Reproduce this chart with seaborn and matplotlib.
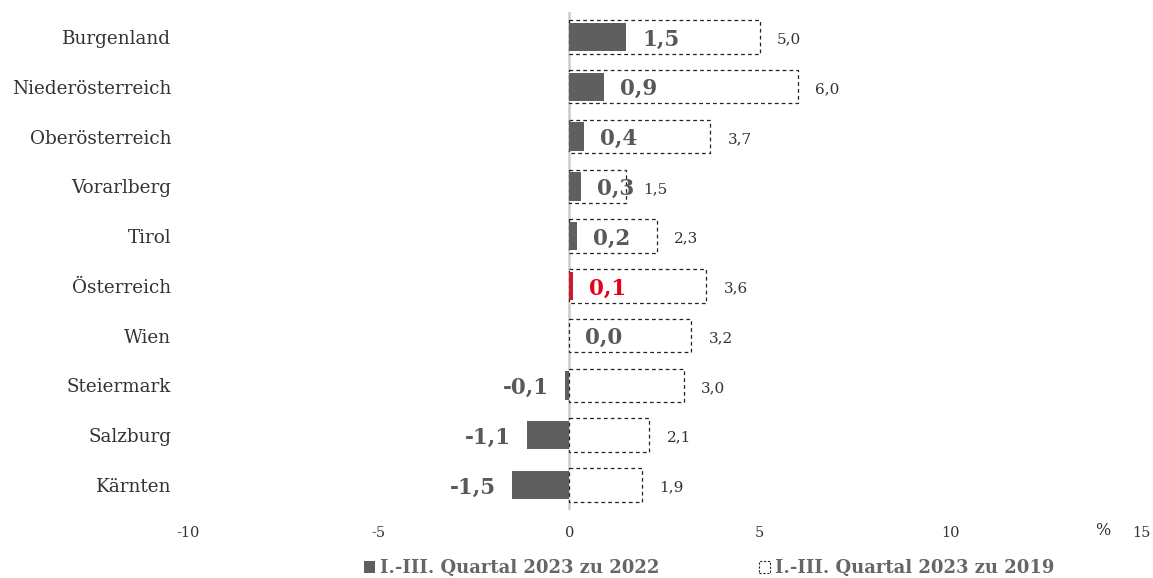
import matplotlib
matplotlib.use("Agg")
import matplotlib.pyplot as plt
import seaborn as sns
import pandas as pd
from matplotlib.patches import Patch

regions = ["Burgenland", "Niederösterreich", "Oberösterreich", "Vorarlberg", "Tirol",
           "Österreich", "Wien", "Steiermark", "Salzburg", "Kärnten"]
v2022 = [1.5, 0.9, 0.4, 0.3, 0.2, 0.1, 0.0, -0.1, -1.1, -1.5]
v2019 = [5.0, 6.0, 3.7, 1.5, 2.3, 3.6, 3.2, 3.0, 2.1, 1.9]
xticks = [-10, -5, 0, 5, 10, 15]
legend_labels = ["I.-III. Quartal 2023 zu 2022", "I.-III. Quartal 2023 zu 2019"]

sns.set_style("white")
plt.rcParams["font.family"] = ["DejaVu Serif", "DejaVu Sans"]

GRAY = "#5f5f5f"
RED = "#e3001b"
TXT = "#595959"

df = pd.DataFrame({"region": regions, "v2022": v2022, "v2019": v2019})
bar_colors = {r: (RED if r == "Österreich" else GRAY) for r in regions}

fig = plt.figure(figsize=(11.53, 5.78), dpi=100)
ax = fig.add_axes([0.163, 0.118, 0.8267, 0.861])

sns.barplot(data=df, y="region", x="v2019", orient="h", order=regions, width=0.67,
            fill=False, color="black", ax=ax, err_kws={"linewidth": 0})
for p in ax.patches:
    p.set_edgecolor("#222222")
    p.set_linestyle((0, (3, 2.5)))
    p.set_linewidth(0.9)
    p.set_facecolor("white")
    p.set_fill(True)

sns.barplot(data=df, y="region", x="v2022", orient="h", order=regions, width=0.57,
            hue="region", palette=bar_colors, legend=False, ax=ax, linewidth=0,
            err_kws={"linewidth": 0})

ax.axvline(0, color="#cccccc", linewidth=1.8, zorder=0.5, ymin=-0.01)
ax.set_xlim(-10, 15)
ax.set_ylim(len(regions) - 0.5, -0.5)
ax.set_xticks(xticks)
ax.set_xticklabels([str(t) for t in xticks], fontsize=10.5, color="#333333")
ax.tick_params(axis="x", length=0, pad=12)
ax.tick_params(axis="y", length=0, pad=12, labelsize=13.2, labelcolor="#333333")
ax.set_xlabel("")
ax.set_ylabel("")
for s in ax.spines.values():
    s.set_visible(False)

ax.text(14.0, len(regions) - 0.5 + 0.42, "%", fontsize=11.5, color="#333333",
        ha="center", va="center", clip_on=False)

for i, (a, b) in enumerate(zip(v2022, v2019)):
    lab = f"{a:.1f}".replace(".", ",")
    col = RED if regions[i] == "Österreich" else TXT
    if a >= 0:
        ax.text(max(a, 0) + 0.42, i + 0.05, lab, ha="left", va="center",
                fontsize=15.5, fontweight="bold", color=col)
    else:
        ax.text(a - 0.42, i + 0.05, lab, ha="right", va="center",
                fontsize=15.5, fontweight="bold", color=col)
    ax.text(b + 0.45, i + 0.05, f"{b:.1f}".replace(".", ","), ha="left", va="center",
            fontsize=11, color="#333333")

handles = [Patch(facecolor=GRAY, edgecolor="none"),
           Patch(facecolor="white", edgecolor="#222222", linestyle=(0, (2, 1.5)), linewidth=0.8)]
fig.legend(handles, legend_labels, loc="center", bbox_to_anchor=(0.615, 0.017),
           ncol=2, frameon=False, handlelength=0.6, handleheight=0.6,
           handletextpad=0.3, columnspacing=5.5, labelcolor="#666666",
           prop={"size": 13, "weight": "bold"})

fig.savefig("out.png", dpi=100)
